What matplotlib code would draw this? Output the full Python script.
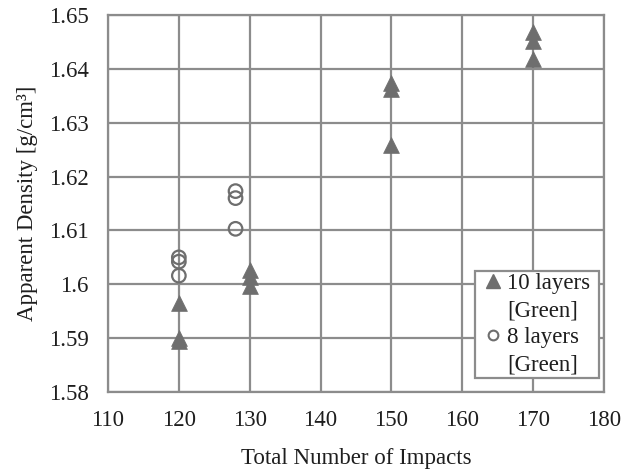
import matplotlib
matplotlib.use("Agg")
import matplotlib.pyplot as plt
from matplotlib.lines import Line2D

plt.rcParams['font.family'] = ['Liberation Serif', 'DejaVu Serif']

# Green compacts, 10 layers
impacts_10 = [120, 120, 120, 130, 130, 130, 150, 150, 150, 170, 170, 170]
density_10 = [1.5966, 1.5895, 1.5900, 1.6027, 1.6014, 1.5997,
              1.6374, 1.6362, 1.6259, 1.6469, 1.6452, 1.6419]

# Green compacts, 8 layers
impacts_8 = [120, 120, 120, 128, 128, 128]
density_8 = [1.6050, 1.6042, 1.6016, 1.6173, 1.6160, 1.6103]

x_ticks = [110, 120, 130, 140, 150, 160, 170, 180]
y_ticks = [1.58, 1.59, 1.60, 1.61, 1.62, 1.63, 1.64, 1.65]
y_tick_labels = ["1.58", "1.59", "1.6", "1.61", "1.62", "1.63", "1.64", "1.65"]

mark = "#6e6e6e"
grid = "#8c8c8c"
ink = "#1e1e1e"
fs = 16.5

fig = plt.figure(figsize=(6.34, 4.72), dpi=100)
ax = fig.add_axes([108 / 634, 1 - 392 / 472, (604 - 108) / 634, (392 - 15) / 472])

ax.scatter(impacts_10, density_10, marker="^", s=130, color=mark,
           edgecolors=mark, linewidths=0.5, zorder=3)
ax.scatter(impacts_8, density_8, marker="o", s=95, facecolors="none",
           edgecolors=mark, linewidths=1.6, zorder=3)

ax.set_xlim(110, 180)
ax.set_ylim(1.58, 1.65)
ax.set_xticks(x_ticks)
ax.set_yticks(y_ticks)
ax.set_yticklabels(y_tick_labels)
ax.grid(True, color=grid, linewidth=1.6)
ax.set_axisbelow(True)
for s in ax.spines.values():
    s.set_color(grid)
    s.set_linewidth(1.6)
ax.tick_params(axis="both", length=0, labelsize=fs, colors=ink)
ax.tick_params(axis="x", pad=13)
ax.tick_params(axis="y", pad=14)

ax.set_xlabel("Total Number of Impacts", fontsize=fs, labelpad=12, color=ink)
ax.set_ylabel("Apparent Density [g/cm³]", fontsize=fs, labelpad=8, color=ink)

# Legend: marker sits beside the first line of each two-line entry
blank = Line2D([], [], linestyle="none", marker="none")
handles = [
    Line2D([], [], linestyle="none", marker="^", markersize=10.5,
           color=mark, markeredgecolor=mark),
    blank,
    Line2D([], [], linestyle="none", marker="o", markersize=7,
           markerfacecolor="none", markeredgecolor=mark, markeredgewidth=1.5),
    blank,
]
labels = ["10 layers ", "[Green]", "8 layers", "[Green]"]
leg = ax.legend(handles, labels, loc="lower right",
                bbox_to_anchor=(0.99, 0.037), fontsize=fs,
                frameon=True, fancybox=False, handletextpad=0.0,
                handlelength=1.3, borderpad=0.12, labelspacing=0.26,
                borderaxespad=0.0, labelcolor=ink)
leg.get_frame().set_edgecolor(grid)
leg.get_frame().set_linewidth(1.6)
leg.get_frame().set_alpha(1)

fig.savefig("out.png", dpi=100, facecolor="white")
